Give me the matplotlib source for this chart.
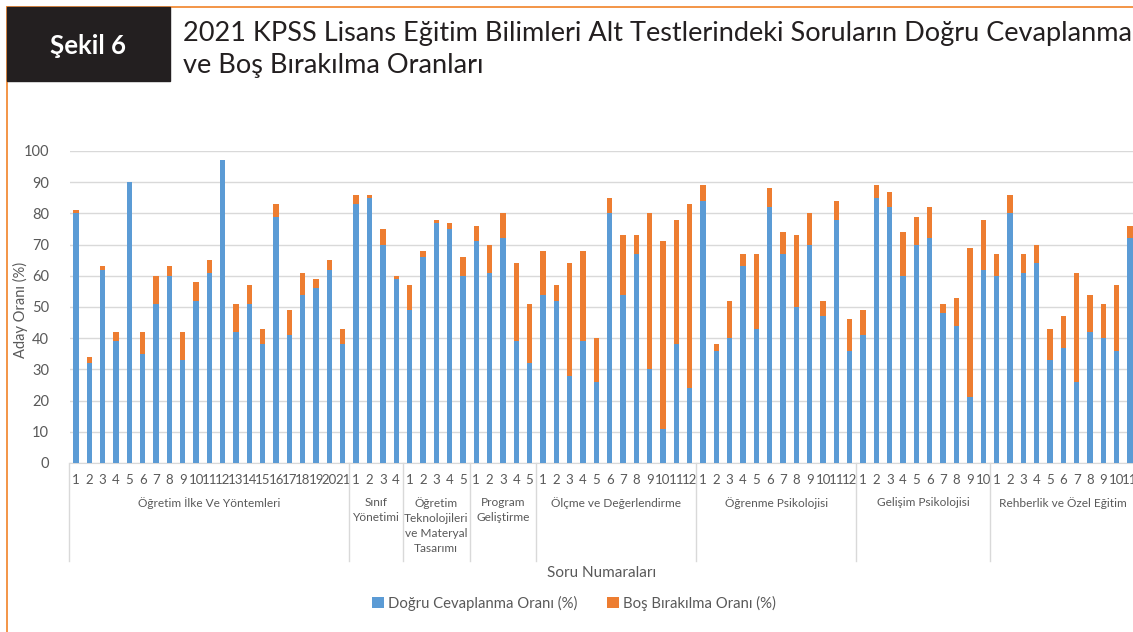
import matplotlib
matplotlib.use('Agg')
import matplotlib.pyplot as plt
import numpy as np
from matplotlib.transforms import blended_transform_factory
from matplotlib.lines import Line2D
from matplotlib.patches import Rectangle

# ---------------- data ----------------
group_names = ['Öğretim İlke Ve Yöntemleri', 'Sınıf\nYönetimi',
               'Öğretim\nTeknolojileri\nve Materyal\nTasarımı', 'Program\nGeliştirme',
               'Ölçme ve Değerlendirme', 'Öğrenme Psikolojisi', 'Gelişim Psikolojisi',
               'Rehberlik ve Özel Eğitim']
group_sizes = [21, 4, 5, 5, 12, 12, 10, 11]

correct_oiy = [80, 32, 62, 39, 90, 35, 51, 60, 33, 52, 61, 97, 42, 51, 38, 79, 41, 54, 56, 62, 38]
blank_oiy = [1, 2, 1, 3, 0, 7, 9, 3, 9, 6, 4, 0, 9, 6, 5, 4, 8, 7, 3, 3, 5]
correct_sy = [83, 85, 70, 59]
blank_sy = [3, 1, 5, 1]
correct_otmt = [49, 66, 77, 75, 60]
blank_otmt = [8, 2, 1, 2, 6]
correct_pg = [71, 61, 72, 39, 32]
blank_pg = [5, 9, 8, 25, 19]
correct_od = [54, 52, 28, 39, 26, 80, 54, 67, 30, 11, 38, 24]
blank_od = [14, 5, 36, 29, 14, 5, 19, 6, 50, 60, 40, 59]
correct_op = [84, 36, 40, 63, 43, 82, 67, 50, 70, 47, 78, 36]
blank_op = [5, 2, 12, 4, 24, 6, 7, 23, 10, 5, 6, 10]
correct_gp = [41, 85, 82, 60, 70, 72, 48, 44, 21, 62]
blank_gp = [8, 4, 5, 14, 9, 10, 3, 9, 48, 16]
correct_roe = [60, 80, 61, 64, 33, 37, 26, 42, 40, 36, 72]
blank_roe = [7, 6, 6, 6, 10, 10, 35, 12, 11, 21, 4]

yticks = list(range(0, 101, 10))
series_names = ['Doğru Cevaplanma Oranı (%)', 'Boş Bırakılma Oranı (%)']
title_lines = ['2021 KPSS Lisans Eğitim Bilimleri Alt Testlerindeki Soruların Doğru Cevaplanma',
               've Boş Bırakılma Oranları']
badge = 'Şekil 6'
xlabel = 'Soru Numaraları'
ylabel = 'Aday Oranı (%)'

correct = (correct_oiy + correct_sy + correct_otmt + correct_pg + correct_od
           + correct_op + correct_gp + correct_roe)
blank = (blank_oiy + blank_sy + blank_otmt + blank_pg + blank_od
         + blank_op + blank_gp + blank_roe)

# ---------------- style ----------------
BLUE = '#5B9BD5'
ORANGE = '#ED7D31'
FRAME = '#F28C38'
GRAY = '#595959'
GRID = '#D9D9D9'
FONT = 'Lato'
FS = 9.5

W, H = 1133, 632
fig = plt.figure(figsize=(W / 100, H / 100), dpi=100)


def fx(px):
    return px / W


def fy(py):
    return 1 - py / H


ax = fig.add_axes([fx(70), fy(463), 1 - fx(70), fy(151) - fy(463)])
x = np.arange(len(correct))
ax.bar(x, correct, width=0.4, color=BLUE, zorder=3, label=series_names[0])
ax.bar(x, blank, bottom=correct, width=0.4, color=ORANGE, zorder=3, label=series_names[1])
ax.set_xlim(-0.45, 79.23)
ax.set_ylim(0, 100)
ax.set_yticks(yticks)
ax.set_yticklabels([str(v) for v in yticks], fontfamily=FONT, fontsize=FS + 1, color=GRAY)
ax.yaxis.grid(True, color=GRID, lw=1, zorder=0)
ax.set_axisbelow(True)
for s in ['top', 'right', 'left']:
    ax.spines[s].set_visible(False)
ax.spines['bottom'].set_color(GRID)
ax.tick_params(axis='y', length=0, pad=15)
ax.set_xticks([])

trans = blended_transform_factory(ax.transData, fig.transFigure)

# category labels, group labels and separators
start = 0
bounds = [-0.5]
for name, n in zip(group_names, group_sizes):
    for i in range(n):
        ax.text(start + i, fy(480), str(i + 1), transform=trans, ha='center', va='center',
                fontfamily=FONT, fontsize=FS, color=GRAY, clip_on=False)
    center = start + (n - 1) / 2
    ax.text(center, fy(497), name, transform=trans, ha='center', va='top',
            fontfamily=FONT, fontsize=8.6, color=GRAY, linespacing=1.45)
    start += n
    bounds.append(start - 0.5)
for b in bounds:
    if b < 79.23:
        fig.add_artist(Line2D([b, b], [fy(463), fy(561)], transform=trans, color=GRID, lw=1))

# axis titles
fig.text(fx(601.5), fy(573), xlabel, ha='center', va='center', fontfamily=FONT,
         fontsize=FS + 1.5, color=GRAY)
fig.text(fx(20), fy(310), ylabel, ha='center', va='center', rotation=90, fontfamily=FONT,
         fontsize=FS + 1, color=GRAY)

# legend
leg = fig.legend(loc='center', bbox_to_anchor=(fx(574), fy(603)), ncol=2, frameon=False,
                 prop={'family': FONT, 'size': FS + 1.2}, handlelength=0.8, handleheight=0.8,
                 handletextpad=0.3, columnspacing=2.0, labelcolor=GRAY)

# frame and header
fig.add_artist(Line2D([fx(7), fx(7)], [fy(7), 0], transform=fig.transFigure, color=FRAME, lw=1.3))
fig.add_artist(Line2D([fx(7), 1], [fy(7), fy(7)], transform=fig.transFigure, color=FRAME, lw=1.3))
fig.add_artist(Rectangle((fx(7), fy(81)), fx(170) - fx(7), fy(7) - fy(81),
                         transform=fig.transFigure, color='#231F20', zorder=5))
fig.text(fx(88), fy(46), badge, ha='center', va='center', color='white', fontweight='bold',
         fontfamily=FONT, fontsize=18.5, zorder=6)

renderer = fig.canvas.get_renderer()
t1 = fig.text(fx(183), fy(33), title_lines[0], ha='left', va='center', color='#231F20',
              fontfamily=FONT, fontsize=17)
w = t1.get_window_extent(renderer).width
fs_title = 17 * 948 / w
t1.set_fontsize(fs_title)
fig.text(fx(183), fy(66), title_lines[1], ha='left', va='center', color='#231F20',
         fontfamily=FONT, fontsize=fs_title)

fig.savefig('out.png', dpi=100)
